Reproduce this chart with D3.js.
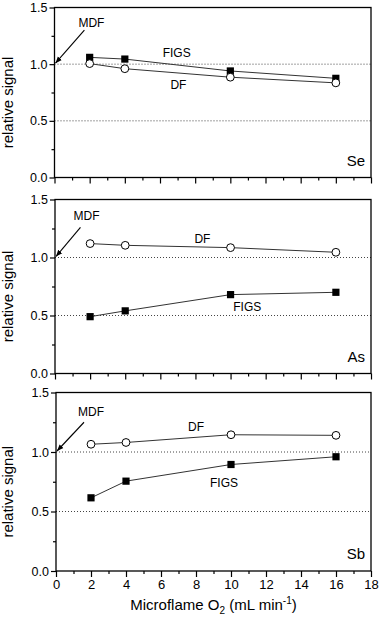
<!DOCTYPE html>
<meta charset="utf-8">
<style>
body { margin: 0; background: #fff; }
svg { display: block; font-family: "Liberation Sans", Arial, sans-serif; }
.frame { fill: none; stroke: #000; stroke-width: 1.3; }
.grid { stroke: #444; stroke-width: 1; stroke-dasharray: 1,2; }
.series { fill: none; stroke: #333; stroke-width: 1; }
.tick-label { font-size: 12.5px; fill: #000; }
.x-label { font-size: 13px; fill: #000; }
.axis-title { font-size: 15px; fill: #000; }
.note { font-size: 12px; fill: #000; }
</style>
<body>
<svg width="380" height="619"></svg>
<script src="https://d3js.org/d3.v7.min.js"></script>
<script>

// microflame O2 flow (mL/min)
const flowO2 = [2, 4, 10, 16];

const seFIGS = [1.06, 1.045, 0.94, 0.875];
const seDF   = [1.005, 0.96, 0.885, 0.835];
const asFIGS = [0.49, 0.54, 0.68, 0.70];
const asDF   = [1.12, 1.105, 1.085, 1.045];
const sbFIGS = [0.615, 0.755, 0.895, 0.96];
const sbDF   = [1.065, 1.08, 1.145, 1.14];

const xTickValues = [0, 2, 4, 6, 8, 10, 12, 14, 16, 18];
const xMinorTicks = [1, 3, 5, 7, 9, 11, 13, 15, 17];
const yTickValues = [0, 0.5, 1.0, 1.5];
const yMinorTicks = [0.25, 0.75, 1.25];
const gridLines = [0.5, 1.0];

// layout of the three stacked panels (pixels) + label spots (data units)
const panels = [
  {name: 'Se', figs: seFIGS, df: seDF, top: 7.5, bottom: 177.5, left: 54.5,
   mdf: [2.1, 1.33], arrow: [1.7, 1.30], figsLab: [6.95, 1.06], dfLab: [7.05, 0.78]},
  {name: 'As', figs: asFIGS, df: asDF, top: 199.5, bottom: 373.5, left: 55,
   mdf: [1.8, 1.32], arrow: [1.45, 1.26], figsLab: [10.95, 0.54], dfLab: [8.4, 1.125]},
  {name: 'Sb', figs: sbFIGS, df: sbDF, top: 392.5, bottom: 571, left: 56,
   mdf: [2.0, 1.30], arrow: [1.6, 1.25], figsLab: [9.6, 0.71], dfLab: [8.0, 1.175]}
];
const right = 371;

const svg = d3.select('svg');

svg.append('defs').append('marker')
  .attr('id', 'head')
  .attr('viewBox', '0 0 10 10')
  .attr('refX', 10).attr('refY', 5)
  .attr('markerWidth', 6).attr('markerHeight', 6)
  .attr('orient', 'auto')
  .append('path')
  .attr('d', 'M0,1 L10,5 L0,9 Z')
  .attr('fill', '#000');

panels.forEach(function(p, i) {
  const x = d3.scaleLinear().domain([0, 18]).range([p.left, right]);
  const y = d3.scaleLinear().domain([0, 1.5]).range([p.bottom, p.top]);
  const g = svg.append('g');

  // dotted reference lines
  g.selectAll('.grid').data(gridLines).enter().append('line')
    .attr('class', 'grid')
    .attr('x1', x(0)).attr('x2', x(18))
    .attr('y1', d => y(d)).attr('y2', d => y(d));

  // y axis ticks (outward)
  const yAxis = g.append('g').attr('transform', 'translate(' + x(0) + ',0)');
  yAxis.call(d3.axisLeft(y).tickValues(yTickValues).tickSize(5).tickFormat(d3.format('.1f')));
  yAxis.append('g').call(d3.axisLeft(y).tickValues(yMinorTicks).tickSize(3).tickFormat(''));
  yAxis.selectAll('.domain').remove();
  yAxis.selectAll('text').attr('class', 'tick-label').attr('font-family', null).attr('font-size', null).attr('x', -7);
  yAxis.selectAll('line').attr('stroke-width', 1.2);

  // x axis ticks (outward)
  const xAxis = g.append('g').attr('transform', 'translate(0,' + y(0) + ')');
  xAxis.call(d3.axisBottom(x).tickValues(xTickValues).tickSize(6)
    .tickFormat(i === 2 ? d3.format('d') : ''));
  xAxis.append('g').call(d3.axisBottom(x).tickValues(xMinorTicks).tickSize(3).tickFormat(''));
  xAxis.selectAll('.domain').remove();
  xAxis.selectAll('text').attr('class', 'x-label').attr('font-family', null).attr('font-size', null).attr('y', 9);
  xAxis.selectAll('line').attr('stroke-width', 1.2);

  // frame
  g.append('rect').attr('class', 'frame')
    .attr('x', x(0)).attr('y', y(1.5))
    .attr('width', x(18) - x(0)).attr('height', y(0) - y(1.5));

  const line = d3.line().x((d, j) => x(flowO2[j])).y(d => y(d));

  g.append('path').datum(p.figs).attr('class', 'series').attr('d', line);
  g.append('path').datum(p.df).attr('class', 'series').attr('d', line);

  // FIGS squares
  g.selectAll('.sq').data(p.figs).enter().append('rect')
    .attr('class', 'sq')
    .attr('x', (d, j) => x(flowO2[j]) - 3.6)
    .attr('y', d => y(d) - 3.6)
    .attr('width', 7.2).attr('height', 7.2)
    .attr('fill', '#000');

  // DF open circles
  g.selectAll('.ci').data(p.df).enter().append('circle')
    .attr('class', 'ci')
    .attr('cx', (d, j) => x(flowO2[j]))
    .attr('cy', d => y(d))
    .attr('r', 3.9)
    .attr('fill', '#fff').attr('stroke', '#000').attr('stroke-width', 1);

  // annotations
  g.append('text').attr('class', 'note')
    .attr('x', x(p.mdf[0])).attr('y', y(p.mdf[1]))
    .attr('text-anchor', 'middle').text('MDF');
  g.append('line')
    .attr('x1', x(p.arrow[0])).attr('y1', y(p.arrow[1]))
    .attr('x2', x(0) + 1).attr('y2', y(1.0) - 1)
    .attr('stroke', '#000').attr('stroke-width', 1.1)
    .attr('marker-end', 'url(#head)');
  g.append('text').attr('class', 'note')
    .attr('x', x(p.figsLab[0])).attr('y', y(p.figsLab[1]))
    .attr('text-anchor', 'middle').text('FIGS');
  g.append('text').attr('class', 'note')
    .attr('x', x(p.dfLab[0])).attr('y', y(p.dfLab[1]))
    .attr('text-anchor', 'middle').text('DF');

  g.append('text').attr('class', 'axis-title')
    .attr('x', right - 6).attr('y', y(0) - 12)
    .attr('text-anchor', 'end').text(p.name);

  const mid = (p.top + p.bottom) / 2 + 10;
  g.append('text').attr('class', 'axis-title')
    .attr('transform', 'translate(13,' + mid + ') rotate(-90)')
    .attr('text-anchor', 'middle').text('relative signal');

  if (i === 2) {
    const t = g.append('text').attr('class', 'axis-title')
      .attr('x', x(9)).attr('y', 610).attr('text-anchor', 'middle');
    t.append('tspan').text('Microflame O');
    t.append('tspan').attr('font-size', 10).attr('dy', 4).text('2');
    t.append('tspan').attr('dy', -4).text(' (mL min');
    t.append('tspan').attr('font-size', 10).attr('dy', -6).text('-1');
    t.append('tspan').attr('dy', 6).text(')');
  }
});
</script>
</body>
